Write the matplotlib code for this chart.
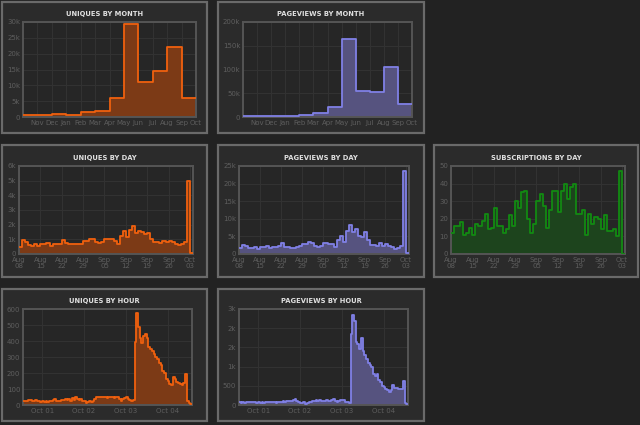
import matplotlib
matplotlib.use('Agg')
import matplotlib.pyplot as plt
from matplotlib.patches import Rectangle
import numpy as np

# data per bulan (Oct tahun lalu .. Sep)
month_labels = ['Nov', 'Dec', 'Jan', 'Feb', 'Mar', 'Apr', 'May', 'Jun', 'Jul', 'Aug', 'Sep', 'Oct']
uniques_month = [500, 500, 800, 750, 1450, 2050, 5950, 29300, 11200, 14400, 22100, 5850]
pageviews_month = [2000, 2000, 2200, 2200, 5000, 7800, 20500, 164000, 55500, 53500, 106000, 27000]

# data per hari (Aug 08 .. Oct 03)
day_labels = ['Aug\n08', 'Aug\n15', 'Aug\n22', 'Aug\n29', 'Sep\n05', 'Sep\n12', 'Sep\n19', 'Sep\n26', 'Oct\n03']
uniques_day = [500, 950, 800, 600, 570, 700, 550, 700, 700, 750,
               550, 700, 700, 700, 950, 750, 700, 650, 650, 700,
               700, 900, 900, 1050, 1000, 800, 750, 850, 1050, 1000,
               1000, 900, 700, 1250, 1600, 1150, 1650, 1900, 1400, 1600,
               1500, 1350, 1450, 1050, 850, 800, 750, 900, 800, 900,
               800, 700, 600, 650, 800, 5000, 50]
pageviews_day = [1800, 2500, 2300, 1700, 1600, 2000, 1300, 1900, 2000, 2300,
                 1600, 2000, 1900, 2200, 3000, 2000, 2000, 1800, 1800, 1900,
                 2200, 2700, 2700, 3300, 3200, 2400, 1900, 2400, 3000, 3000,
                 2900, 2700, 2000, 4000, 5100, 3500, 6500, 8300, 6200, 7100,
                 5000, 4900, 6200, 4000, 2500, 2500, 2300, 3000, 2200, 2700,
                 2400, 2000, 1500, 1700, 2300, 23500, 300]
subs_day = [12, 16, 16, 18, 11, 12, 15, 11, 17, 16,
            19, 23, 14, 15, 26, 16, 16, 12, 14, 22,
            16, 30, 26, 35, 36, 20, 12, 17, 30, 34,
            27, 15, 25, 36, 36, 24, 36, 40, 31, 38,
            40, 23, 23, 25, 11, 23, 17, 21, 20, 14,
            22, 13, 13, 14, 10, 47, 0]

# data per jam (Sep 30 13:00 .. Oct 04 13:00)
hour_labels = ['Oct 01', 'Oct 02', 'Oct 03', 'Oct 04']
uniques_hour = [25, 28, 22, 30, 32, 28, 25, 30, 22, 27, 20,
                22, 18, 25, 20, 28, 22, 30, 35, 28, 25, 27, 30, 33,
                35, 30, 38, 28, 45, 32, 50, 35, 30, 40, 25, 28, 15,
                20, 28, 18, 25, 35,
                50, 52, 50, 52, 48, 50, 45, 50, 48, 52, 45, 50, 48, 40,
                25, 40, 45, 50, 40, 30, 25, 30,
                396, 575, 490, 420, 385, 430, 445, 420, 360, 350, 335,
                320, 300, 290, 265, 250, 215, 200, 165, 150, 130, 125,
                175, 165, 145, 140, 130, 125, 140, 195, 25, 10, 5]
pageviews_hour = [70, 65, 75, 60, 80, 85, 70, 75, 90, 80, 65,
                  70, 55, 75, 60, 70, 85, 90, 75, 80, 70, 60, 75, 80,
                  85, 95, 90, 100, 105, 95, 110, 130, 150, 115, 90, 60, 40,
                  70, 30, 60, 90, 70,
                  110, 100, 120, 105, 125, 110, 115, 105, 120, 110, 115, 120, 155, 110,
                  70, 100, 130, 140, 120, 80, 70, 60,
                  1850, 2350, 2200, 1650, 1600, 1450, 1750, 1400, 1300, 1200, 1100,
                  1050, 1000, 800, 750, 820, 650, 600, 500, 480, 420, 380,
                  350, 380, 520, 450, 430, 420, 410, 420, 620, 50, 20]

# warna
BG = '#222222'
PANEL_BG = '#2b2b2b'
PANEL_EDGE = '#6a6a6a'
PLOT_BG = '#262626'
PLOT_EDGE = '#555555'
GRID = '#333333'
TICK = '#5e5e5e'
ORANGE = ('#f0600e', '#7c3a16')
PURPLE = ('#8080e6', '#56537f')
GREEN = ('#128a12', '#1d441d')

W, H = 640, 425
fig = plt.figure(figsize=(6.4, 4.25), dpi=100, facecolor=BG)


def px(x0, y0, x1, y1):
    return [x0 / W, 1 - y1 / H, (x1 - x0) / W, (y1 - y0) / H]


def panel(box, area, title, title_y, values, colors, ylim, ystep, ylabels,
          xticks, xlabels, xlim):
    # kotak panel, digambar di belakang axes
    b = px(*box)
    fig.patches.append(Rectangle((b[0], b[1]), b[2], b[3], transform=fig.transFigure,
                                 facecolor=PANEL_BG, edgecolor=PANEL_EDGE, lw=1.6, zorder=-5))
    fig.text((box[0] + box[2]) / 2 / W, 1 - title_y / H, title, ha='center', va='center',
             color='#e0e0e0', fontsize=4.9, fontweight='bold')

    ax = fig.add_axes(px(*area))
    ax.set_zorder(1)
    ax.set_facecolor(PLOT_BG)
    x = np.arange(len(values) + 1)
    y = list(values) + [values[-1]]
    ax.fill_between(x, y, step='post', color=colors[1], lw=0, zorder=2)
    ax.step(x, y, where='post', color=colors[0], lw=1.3, zorder=3)

    ax.set_xlim(*xlim)
    ax.set_ylim(0, ylim)
    yt = np.arange(0, ylim + 1, ystep)
    ax.set_yticks(yt)
    ax.set_yticklabels(ylabels)
    ax.set_xticks(xticks)
    ax.set_xticklabels(xlabels, linespacing=1.05)
    ax.tick_params(length=0, colors=TICK, labelsize=5, pad=2)
    ax.grid(True, color=GRID, lw=0.7)
    ax.set_axisbelow(True)
    for s in ax.spines.values():
        s.set_color(PLOT_EDGE)
        s.set_linewidth(1.4)
    return ax


month_x = list(range(1, 13))
day_x = list(range(0, 57, 7))
hour_x = [11, 35, 59, 83]

panel((2, 2, 207, 133), (23, 22, 196, 117), 'UNIQUES BY MONTH', 14,
      uniques_month, ORANGE, 30000, 5000, ['0', '5k', '10k', '15k', '20k', '25k', '30k'],
      month_x, month_labels, (0, 12))
panel((218, 2, 424, 133), (243, 22, 412, 117), 'PAGEVIEWS BY MONTH', 14,
      pageviews_month, PURPLE, 200000, 50000, ['0', '50k', '100k', '150k', '200k'],
      month_x, month_labels, (0, 12))

panel((2, 145, 207, 277), (19, 166, 193, 254), 'UNIQUES BY DAY', 158,
      uniques_day, ORANGE, 6000, 1000, ['0', '1k', '2k', '3k', '4k', '5k', '6k'],
      day_x, day_labels, (0, 57))
panel((218, 145, 424, 277), (239, 166, 409, 254), 'PAGEVIEWS BY DAY', 158,
      pageviews_day, PURPLE, 25000, 5000, ['0', '5k', '10k', '15k', '20k', '25k'],
      day_x, day_labels, (0, 57))
panel((434, 145, 638, 277), (451, 166, 625, 254), 'SUBSCRIPTIONS BY DAY', 158,
      subs_day, GREEN, 50, 10, ['0', '10', '20', '30', '40', '50'],
      day_x, day_labels, (0, 57))

panel((2, 289, 207, 421), (23, 309, 192, 405), 'UNIQUES BY HOUR', 301,
      uniques_hour, ORANGE, 600, 100, ['0', '100', '200', '300', '400', '500', '600'],
      hour_x, hour_labels, (0, 97))
panel((218, 289, 424, 421), (239, 309, 408, 405), 'PAGEVIEWS BY HOUR', 301,
      pageviews_hour, PURPLE, 2500, 500, ['0', '500', '1k', '2k', '2k', '3k'],
      hour_x, hour_labels, (0, 97))

fig.savefig('out.png', dpi=100, facecolor=BG)
